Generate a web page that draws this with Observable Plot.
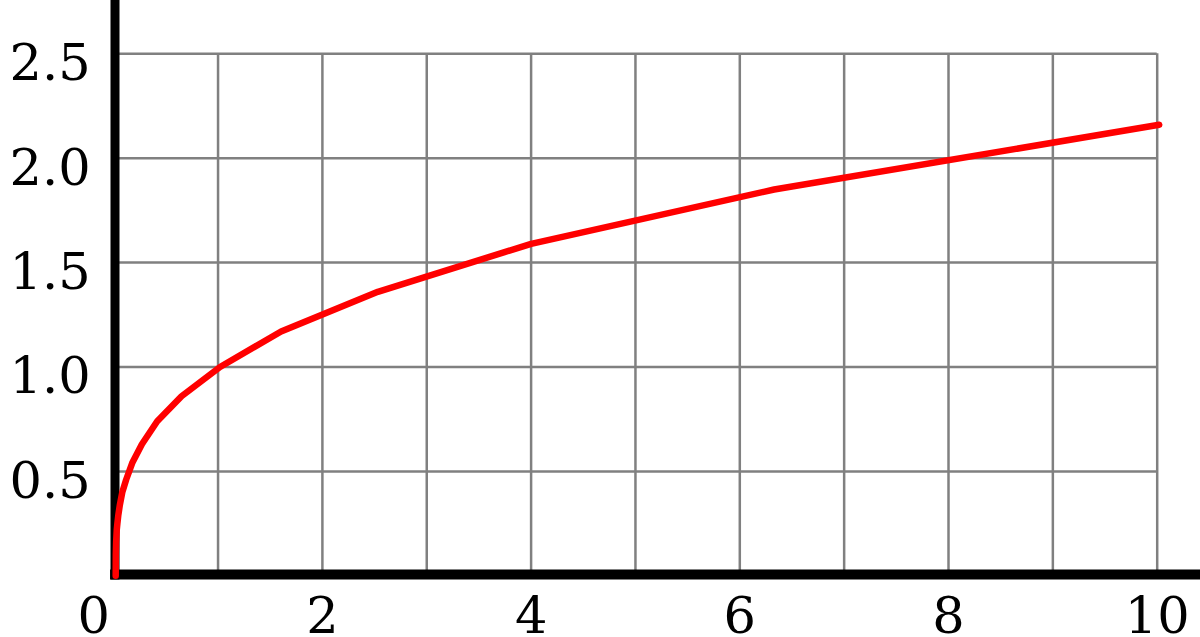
<!DOCTYPE html>
<html>
<head>
<meta charset="utf-8">
<script src="https://cdn.jsdelivr.net/npm/d3@7"></script>
<script src="https://cdn.jsdelivr.net/npm/@observablehq/plot@0.6"></script>
<style>
  html, body { margin: 0; padding: 0; background: #fff; }
</style>
</head>
<body>
<div id="chart"></div>
<script>
// Curve points
const xs = [0, 0.001, 0.004, 0.01, 0.016, 0.025, 0.04, 0.063, 0.1, 0.158, 0.251, 0.398, 0.631, 1, 1.585, 2.512, 3.981, 6.31, 10];
const ys = [0, 0.10, 0.16, 0.22, 0.25, 0.29, 0.34, 0.40, 0.46, 0.54, 0.63, 0.74, 0.86, 1.00, 1.17, 1.36, 1.59, 1.85, 2.16];
const xGrid = [1, 2, 3, 4, 5, 6, 7, 8, 9, 10];
const yGrid = [0.5, 1.0, 1.5, 2.0, 2.5];
const xTickLabels = [2, 4, 6, 8, 10];
const yTickLabels = [0.5, 1.0, 1.5, 2.0, 2.5];

const pts = xs.map((x, i) => ({x, y: ys[i]}));

const plot = Plot.plot({
  width: 1200,
  height: 637,
  marginLeft: 113.2,
  marginRight: 43.3,
  marginTop: 53.3,
  marginBottom: 61.7,
  style: {fontFamily: "DejaVu Serif", fontSize: "51px", color: "#000", background: "#fff"},
  x: {domain: [0, 10], label: null},
  y: {domain: [0, 2.5], label: null},
  marks: [
    Plot.ruleX(xGrid, {y1: 0, y2: 2.5, stroke: "#808080", strokeWidth: 2.5}),
    Plot.ruleY(yGrid, {x1: 0, x2: 10, stroke: "#808080", strokeWidth: 2.5}),
    Plot.ruleX([0], {y1: -0.02, y2: 2.8, stroke: "#000", strokeWidth: 9, dx: 1.3}),
    Plot.ruleY([0], {x1: -0.03, x2: 10.5, stroke: "#000", strokeWidth: 10, dy: -1.3}),
    Plot.line(pts, {x: "x", y: "y", stroke: "#ff0000", strokeWidth: 6.5, strokeLinejoin: "round", dx: 2}),
    Plot.axisY(yTickLabels, {tickSize: 0, tickPadding: 23, dy: 10, label: null, tickFormat: d => d.toFixed(1), fontSize: 51}),
    Plot.axisX(xTickLabels, {tickSize: 0, tickPadding: 21, label: null, tickFormat: d => String(d), fontSize: 51}),
    Plot.axisX([0], {tickSize: 0, tickPadding: 21, dx: -20, label: null, tickFormat: d => String(d), fontSize: 51})
  ]
});
document.getElementById("chart").appendChild(plot);
</script>
</body>
</html>
